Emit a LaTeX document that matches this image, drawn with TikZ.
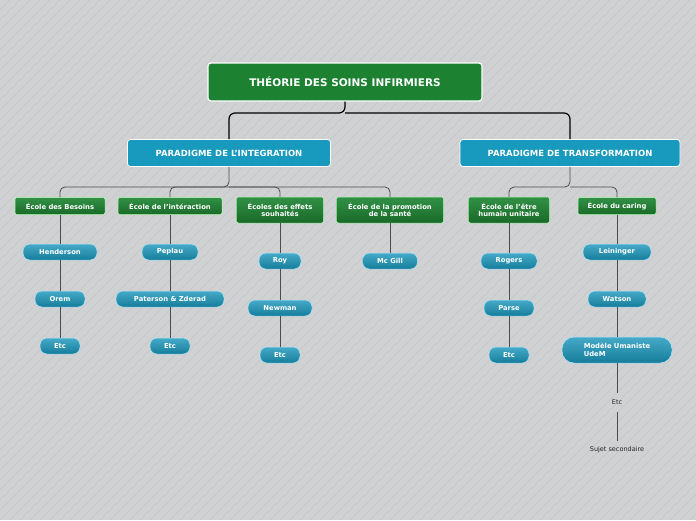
\documentclass[tikz,border=0pt]{standalone}
\usepackage{fontspec}
\setmainfont{DejaVu Sans}
\definecolor{bg}{RGB}{208,209,211}
\definecolor{stripe}{RGB}{196,197,200}
\definecolor{rootg}{RGB}{28,130,50}
\definecolor{parab}{RGB}{24,154,190}
\definecolor{gtop}{RGB}{50,145,70}
\definecolor{gbot}{RGB}{25,105,40}
\definecolor{ltop}{RGB}{70,170,200}
\definecolor{lbot}{RGB}{20,125,155}
\begin{document}
\begin{tikzpicture}[x=1pt,y=-1pt,
 font=\bfseries,
 root/.style={draw=white,line width=1.2pt,fill=rootg,rounded corners=3pt,text=white,minimum width=274pt,minimum height=38pt,font=\bfseries\fontsize{10.5}{12}\selectfont},
 para/.style={draw=white,line width=0.8pt,fill=parab,rounded corners=3pt,text=white,minimum height=27pt,font=\bfseries\fontsize{8.5}{10}\selectfont},
 school/.style={draw=white!70!green,line width=0.5pt,top color=gtop,bottom color=gbot,rounded corners=2pt,text=white,minimum height=17pt,align=center,inner sep=1.5pt,font=\bfseries\fontsize{6.8}{7.5}\selectfont},
 leaf/.style={draw=white!70!cyan,line width=0.5pt,top color=ltop,bottom color=lbot,rounded corners=7pt,text=white,minimum height=16pt,inner sep=1pt,font=\bfseries\fontsize{6.8}{7.5}\selectfont},
 plain/.style={font=\fontsize{6.5}{7}\selectfont,text=black!85},
 conn/.style={draw=black!70,line width=0.8pt,rounded corners=5pt},
 conn2/.style={draw=black,line width=1.2pt,rounded corners=6pt}]
\fill[bg] (0,0) rectangle (696,520);
\begin{scope}
\clip (0,0) rectangle (696,520);
\foreach \i in {-520,-510,...,696}{\draw[stripe,line width=0.5pt] (\i,520) -- (\i+520,0);}
\end{scope}
\useasboundingbox (0,0) rectangle (696,520);
\node[root] (r) at (345,82) {THÉORIE DES SOINS INFIRMIERS};
\node[para,minimum width=203pt] (pl) at (229,153) {PARADIGME DE L’INTEGRATION};
\node[para,minimum width=220pt] (pr) at (570,153) {PARADIGME DE TRANSFORMATION};
\draw[conn2] (r.south) -- (345,113) -| (pl.north);
\draw[conn2] (345,113) -| (pr.north);
\node[school,minimum width=90pt] (s1) at (60,206) {École des Besoins};
\node[school,minimum width=104pt] (s2) at (170,206) {École de l’intéraction};
\node[school,minimum width=87pt,minimum height=26pt] (s3) at (280,210) {Écoles des effets\\souhaités};
\node[school,minimum width=107pt,minimum height=26pt] (s4) at (390,210) {École de la promotion\\de la santé};
\node[school,minimum width=81pt,minimum height=26pt] (s5) at (509,210) {École de l’être\\humain unitaire};
\node[school,minimum width=78pt] (s6) at (617,206) {École du caring};
\draw[conn] (pl.south) -- (229,187) -| (s1.north);
\draw[conn] (229,187) -| (s4.north);
\draw[conn] (229,187) -| (s2.north);
\draw[conn] (229,187) -| (s3.north);
\draw[conn] (pr.south) -- (570,187) -| (s5.north);
\draw[conn] (570,187) -| (s6.north);
\node[leaf,minimum width=74pt] (a1) at (60,252) {Henderson};
\node[leaf,minimum width=50pt] (a2) at (60,299) {Orem};
\node[leaf,minimum width=40pt] (a3) at (60,346) {Etc};
\node[leaf,minimum width=56pt] (b1) at (170,252) {Peplau};
\node[leaf,minimum width=108pt] (b2) at (170,299) {Paterson \& Zderad};
\node[leaf,minimum width=40pt] (b3) at (170,346) {Etc};
\node[leaf,minimum width=42pt] (c1) at (280,261) {Roy};
\node[leaf,minimum width=64pt] (c2) at (280,308) {Newman};
\node[leaf,minimum width=40pt] (c3) at (280,355) {Etc};
\node[leaf,minimum width=55pt] (d1) at (390,261) {Mc Gill};
\node[leaf,minimum width=56pt] (e1) at (509,261) {Rogers};
\node[leaf,minimum width=50pt] (e2) at (509,308) {Parse};
\node[leaf,minimum width=40pt] (e3) at (509,355) {Etc};
\node[leaf,minimum width=68pt] (f1) at (617,252) {Leininger};
\node[leaf,minimum width=58pt] (f2) at (617,299) {Watson};
\node[leaf,minimum width=110pt,minimum height=26pt,rounded corners=12pt,align=left] (f3) at (617,350) {Modèle Umaniste\\ UdeM};
\node[plain] (f4) at (617,402) {Etc};
\node[plain] (f5) at (617,450) {Sujet secondaire};
\foreach \u/\v in {s1/a1,a1/a2,a2/a3,s2/b1,b1/b2,b2/b3,s3/c1,c1/c2,c2/c3,s4/d1,s5/e1,e1/e2,e2/e3,s6/f1,f1/f2,f2/f3}
  \draw[conn] (\u.south) -- (\v.north);
\draw[conn] (f3.south) -- (617,393);
\draw[conn] (617,412) -- (617,441);
\end{tikzpicture}
\end{document}
